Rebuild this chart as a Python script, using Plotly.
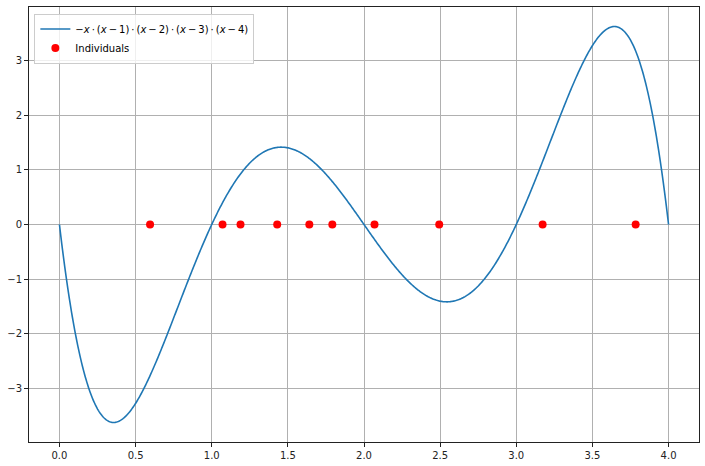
import numpy as np
import plotly.graph_objects as go

# Polynomial roots from legend: -x(x-1)(x-2)(x-3)(x-4)
roots = [0, 1, 2, 3, 4]
curve_x = np.linspace(0, 4, 800)
curve_y = -np.prod([curve_x - r for r in roots], axis=0)

# Individuals, all at y=0
ind_x = [0.595, 1.071, 1.189, 1.430, 1.641, 1.792, 2.069, 2.494, 3.173, 3.784]
ind_y = [0, 0, 0, 0, 0, 0, 0, 0, 0, 0]

x_ticks = [0.0, 0.5, 1.0, 1.5, 2.0, 2.5, 3.0, 3.5, 4.0]
x_tick_labels = ["0.0", "0.5", "1.0", "1.5", "2.0", "2.5", "3.0", "3.5", "4.0"]
y_ticks = [-3, -2, -1, 0, 1, 2, 3]
y_tick_labels = ["\u22123", "\u22122", "\u22121", "0", "1", "2", "3"]

ts = "\u2009"  # thin space
legend_curve = ("\u2212<i>x</i>" + ts + "\u00b7" + ts
                + (ts + "\u00b7" + ts).join(
                    ["(<i>x</i>" + ts + "\u2212" + ts + str(r) + ")" for r in roots[1:]]))

fig = go.Figure()
fig.add_trace(go.Scatter(
    x=curve_x, y=curve_y, mode="lines",
    line=dict(color="#1f77b4", width=1.6, simplify=False),
    name=legend_curve,
))
fig.add_trace(go.Scatter(
    x=ind_x, y=ind_y, mode="markers",
    marker=dict(color="red", size=8),
    name="Individuals",
))

axis_common = dict(
    showgrid=True, gridcolor="#b0b0b0", gridwidth=0.8,
    showline=True, linecolor="#222222", linewidth=1, mirror=True,
    ticks="outside", ticklen=4, tickcolor="#222222", tickwidth=1,
    zeroline=False, automargin=False,
    tickfont=dict(family="DejaVu Sans", size=10, color="#222222"),
)

fig.update_layout(
    width=705, height=466,
    margin=dict(l=29, r=6, t=7, b=24, autoexpand=False),
    paper_bgcolor="white", plot_bgcolor="white",
    font=dict(family="DejaVu Sans", size=10, color="black"),
    showlegend=True,
    legend=dict(
        x=0.008, y=0.985, xanchor="left", yanchor="top",
        bgcolor="rgba(255,255,255,0.8)", bordercolor="#cccccc", borderwidth=1,
        font=dict(family="DejaVu Sans", size=10),
        tracegroupgap=0, itemwidth=30,
    ),
    xaxis=dict(range=[-0.2, 4.2], tickvals=x_ticks, ticktext=x_tick_labels, **axis_common),
    yaxis=dict(range=[-3.99, 3.99], tickvals=y_ticks, ticktext=y_tick_labels, **axis_common),
)

fig.write_html("out.html",
               config={"displayModeBar": False},
               post_script="document.body.style.margin='0';document.body.style.overflow='hidden';")
